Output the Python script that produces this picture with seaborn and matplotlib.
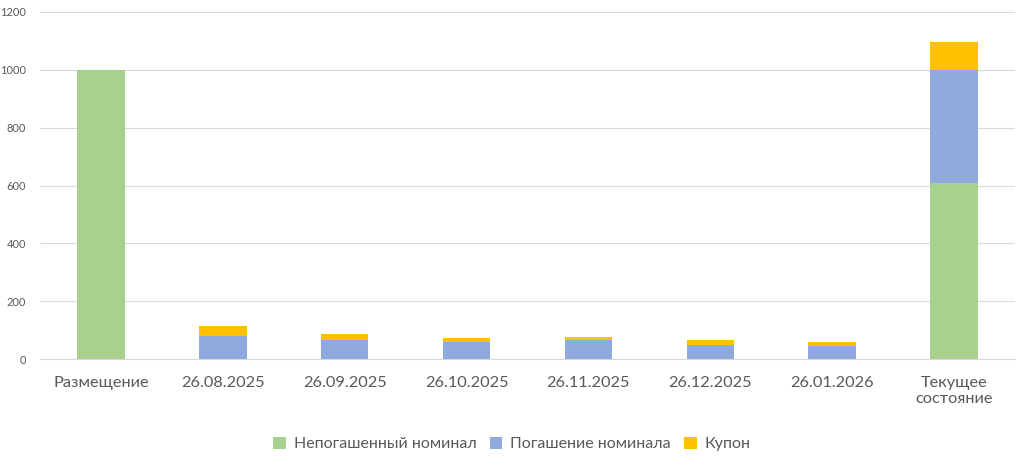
import matplotlib
matplotlib.use("Agg")
import matplotlib.pyplot as plt
import seaborn as sns
import pandas as pd
import numpy as np
from matplotlib.patches import Patch

categories = ["Размещение", "26.08.2025", "26.09.2025", "26.10.2025", "26.11.2025",
              "26.12.2025", "26.01.2026", "Текущее\nсостояние"]
outstanding = [1000, 0, 0, 0, 0, 0, 0, 610]
redemption = [0, 80, 66, 60, 65, 50, 46, 390]
coupon = [0, 33, 19, 12, 11, 15, 14, 97]
series_names = ["Непогашенный номинал", "Погашение номинала", "Купон"]
colors = ["#A9D18E", "#8FAADC", "#FFC000"]

sns.set_theme(style="white")
plt.rcParams["font.family"] = ["Lato", "DejaVu Sans"]

df = pd.DataFrame({"cat": categories, "g": outstanding, "b": redemption, "y": coupon})
df["l1"] = df["g"]
df["l2"] = df["g"] + df["b"]
df["l3"] = df["l2"] + df["y"]

fig = plt.figure(figsize=(10.24, 4.7), dpi=100)
ax = fig.add_axes([40/1024, 1 - 359/470, 975/1024, 347/470])

for col, c in zip(["l3", "l2", "l1"], colors[::-1]):
    sns.barplot(data=df, x="cat", y=col, color=c, width=0.39, ax=ax,
                saturation=1, edgecolor="none", linewidth=0, zorder=3)

ax.set_ylim(0, 1200)
ax.set_xlim(-0.5, 7.5)
ax.set_yticks(np.arange(0, 1201, 200))
ax.yaxis.grid(True, color="#d9d9d9", linewidth=0.8, zorder=0)
ax.set_axisbelow(True)
for s in ["top", "right", "left"]:
    ax.spines[s].set_visible(False)
ax.spines["bottom"].set_color("#d9d9d9")
ax.spines["bottom"].set_linewidth(0.8)
ax.set_xlabel("")
ax.set_ylabel("")
ax.tick_params(axis="y", labelsize=8, colors="#595959", length=0, pad=10)
ax.tick_params(axis="x", labelsize=11.8, colors="#595959", length=0, pad=12)

handles = [Patch(facecolor=c, edgecolor="none") for c in colors]
fig.legend(handles, series_names, loc="center", bbox_to_anchor=(0.5, 1 - 444/470),
           ncol=3, frameon=False, fontsize=11.5, handlelength=0.8, handleheight=0.8,
           handletextpad=0.5, columnspacing=0.8, labelcolor="#595959")

fig.savefig("out.png", dpi=100)
